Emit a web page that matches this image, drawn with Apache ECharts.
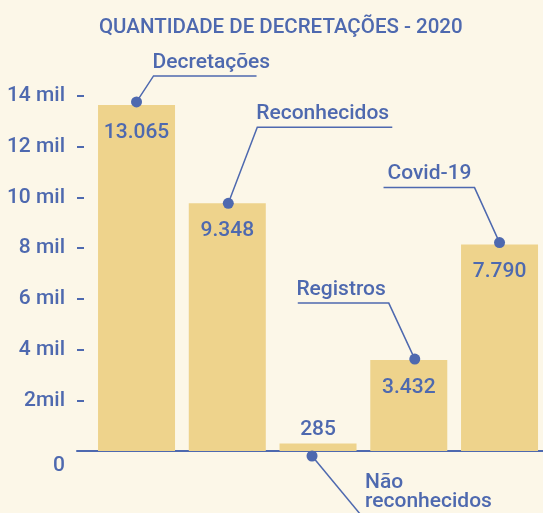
<!DOCTYPE html>
<html>
<head>
<meta charset="utf-8">
<script src="https://cdn.jsdelivr.net/npm/echarts@6/dist/echarts.min.js"></script>
<style>
  html, body { margin: 0; padding: 0; background: #fcf7e8; }
  #chart { width: 543px; height: 513px; }
</style>
</head>
<body>
<div id="chart"></div>
<script>
// dados
var categories = ['Decretações', 'Reconhecidos', 'Não reconhecidos', 'Registros', 'Covid-19']
var values = [13065, 9348, 285, 3432, 7790]
var tickLabels = ['0', '2mil', '4 mil', '6 mil', '8 mil', '10 mil', '12 mil', '14 mil']
var tickStep = 2000

var blue = '#4e69af'
var barColor = '#eed38c'
var font = 'Roboto'

// leader lines: dot offset (ox, oy), elbow (dx, dy), horizontal length
var annoLayout = [
    {ox: 0, oy: -3, dx: 17, dy: -26, len: 103},
    {ox: 1, oy: 0, dx: 29, dy: -76, len: 135},
    {ox: -6, oy: 5, dx: 58, dy: 70, len: 0, atBase: true, tx: 53, ty: 17.5},
    {ox: 6, oy: -1, dx: -26, dy: -56, len: -91},
    {ox: 0, oy: -2, dx: -25, dy: -55, len: -91}
]

function fmt(v) {
    return String(v).replace(/\B(?=(\d{3})+(?!\d))/g, '.')
}

var myChart = echarts.init(document.getElementById('chart'))

var barData = values.map(function (v, i) {
    var item = {value: [i, v]}
    if (v < 1000) {
        item.label = {position: 'top', distance: 3}
    }
    return item
})

var annoData = categories.map(function (c, i) {
    return [i, annoLayout[i].atBase ? 0 : values[i]]
})

function renderAnno(params, api) {
    var i = api.value(0)
    var a = annoLayout[i]
    var p = api.coord([i, api.value(1)])
    var dot = [p[0] + a.ox, p[1] + a.oy]
    var elbow = [dot[0] + a.dx, dot[1] + a.dy]
    var end = [elbow[0] + a.len, elbow[1]]
    var children = [
        {type: 'polyline', shape: {points: [dot, elbow, end]},
         style: {stroke: blue, lineWidth: 1.5, fill: null}},
        {type: 'circle', shape: {cx: dot[0], cy: dot[1], r: 5.5},
         style: {fill: blue}}
    ]
    var text = categories[i]
    var tx, ty, align, valign
    if (a.len === 0) {
        text = text.replace(' ', '\n')
        tx = dot[0] + a.tx
        ty = dot[1] + a.ty
        align = 'left'
        valign = 'top'
    } else {
        tx = a.len > 0 ? elbow[0] - 1 : elbow[0] - 3
        ty = elbow[1] - 4
        align = a.len > 0 ? 'left' : 'right'
        valign = 'bottom'
    }
    children.push({
        type: 'text',
        x: tx, y: ty,
        style: {
            text: text, fill: blue, fontFamily: font, fontSize: 21,
            fontWeight: 500, lineHeight: 19, align: align, verticalAlign: valign
        }
    })
    return {type: 'group', children: children}
}

var option = {
    backgroundColor: '#fcf7e8',
    animation: false,
    title: {
        text: 'QUANTIDADE DE DECRETAÇÕES - 2020',
        left: 94,
        top: 12,
        textStyle: {color: blue, fontFamily: font, fontSize: 20.5, fontWeight: 500}
    },
    grid: {left: 77, right: 0, top: 96, bottom: 62, outerBoundsMode: 'none'},
    xAxis: {
        type: 'value',
        min: -0.656,
        max: 4.479,
        axisLine: {show: true, lineStyle: {color: blue, width: 2}},
        axisTick: {show: false},
        axisLabel: {show: false},
        splitLine: {show: false}
    },
    yAxis: [
        {
            // escala das barras
            type: 'value', min: 0, max: 13400, show: false
        },
        {
            // escala dos rótulos
            type: 'value',
            min: 0,
            max: 14000,
            interval: tickStep,
            position: 'left',
            offset: -7,
            axisLine: {show: false},
            axisTick: {show: true, length: 7, lineStyle: {color: blue, width: 2}},
            splitLine: {show: false},
            axisLabel: {
                margin: 19,
                color: blue,
                fontFamily: font,
                fontSize: 21,
                fontWeight: 500,
                formatter: function (v) {
                    var t = tickLabels[Math.round(v / tickStep)]
                    if (v === 0) return '{zero|' + t + '}'
                    return t
                },
                rich: {
                    zero: {padding: [30, 0, 0, 0], color: blue, fontFamily: font, fontSize: 21, fontWeight: 500}
                }
            }
        }
    ],
    series: [
        {
            type: 'bar',
            yAxisIndex: 0,
            data: barData,
            barWidth: 77,
            itemStyle: {color: barColor},
            label: {
                show: true,
                position: 'insideTop',
                distance: 17,
                color: blue,
                fontFamily: font,
                fontSize: 21,
                fontWeight: 500,
                formatter: function (p) { return fmt(p.value[1]) }
            }
        },
        {
            type: 'custom',
            yAxisIndex: 0,
            data: annoData,
            renderItem: renderAnno,
            silent: true,
            z: 10
        }
    ]
}

myChart.setOption(option)
</script>
</body>
</html>
